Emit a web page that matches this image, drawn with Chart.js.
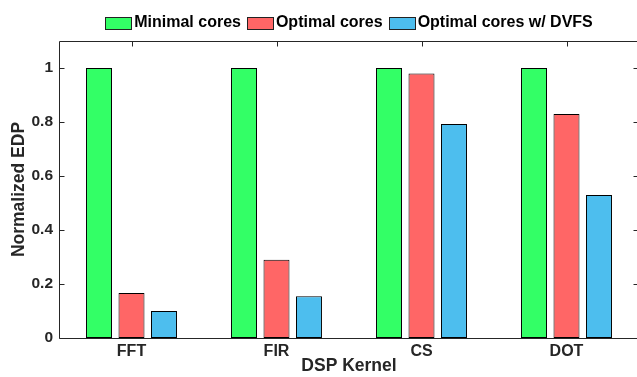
<!DOCTYPE html>
<html><head><meta charset="utf-8">
<script src="https://cdn.jsdelivr.net/npm/chart.js@4"></script>
<style>
html,body{margin:0;padding:0;background:#fff;overflow:hidden}
#wrap{width:637px;height:377px;overflow:hidden;position:relative;background:#fff}
canvas{display:block}
</style></head><body>
<div id="wrap"><canvas id="c" width="639" height="377"></canvas></div>
<script>
// Normalized energy-delay product per DSP kernel
const kernels = ['FFT', 'FIR', 'CS', 'DOT'];
const minimalCores = [1, 1, 1, 1];
const optimalCores = [0.167, 0.29, 0.98, 0.83];
const optimalCoresDvfs = [0.1, 0.155, 0.793, 0.53];
const seriesNames = ['Minimal cores', 'Optimal cores', 'Optimal cores w/ DVFS'];
const yTicks = [0, 0.2, 0.4, 0.6, 0.8, 1];

const FONT = '"Liberation Sans", Arial, Helvetica, sans-serif';
const AXIS = '#262626';
const colors = ['#33FF66', '#FF6666', '#4DBEEE'];

// Boxed axes with inward ticks on all four sides
const frame = {
  id: 'frame',
  beforeDatasetsDraw(chart) {
    const {ctx, chartArea: a, scales: {x, y}} = chart;
    const L = Math.round(a.left) + 0.5, R = Math.round(a.right) - 0.5;
    const T = Math.round(a.top) + 0.5, B = Math.round(a.bottom) + 0.5;
    ctx.save();
    ctx.strokeStyle = AXIS;
    ctx.lineWidth = 1;
    ctx.beginPath();
    ctx.rect(L, T, R - L, B - T);
    y.ticks.forEach(t => {
      const py = Math.round(y.getPixelForValue(t.value)) + 0.5;
      ctx.moveTo(L, py); ctx.lineTo(L + 5, py);
      ctx.moveTo(R, py); ctx.lineTo(R - 5, py);
    });
    x.ticks.forEach((t, i) => {
      const px = Math.round(x.getPixelForTick(i)) + 0.5;
      ctx.moveTo(px, T); ctx.lineTo(px, T + 5);
      ctx.moveTo(px, B); ctx.lineTo(px, B - 5);
    });
    ctx.stroke();
    ctx.restore();
  }
};

// Single-row legend centred over the plot area
const topLegend = {
  id: 'topLegend',
  afterDraw(chart) {
    const {ctx, chartArea: a} = chart;
    const boxW = 26, boxH = 12, gapText = 3, gapItem = 6, cy = 23;
    ctx.save();
    ctx.font = 'bold 16px ' + FONT;
    const items = chart.data.datasets.map(ds => ({
      label: ds.label, color: ds.backgroundColor, w: ctx.measureText(ds.label).width
    }));
    const total = items.reduce((s, it) => s + boxW + gapText + it.w, 0) + gapItem * (items.length - 1);
    let xPos = (a.left + a.right) / 2 - total / 2;
    ctx.textBaseline = 'middle';
    ctx.textAlign = 'left';
    items.forEach(it => {
      const bx = Math.round(xPos) + 0.5, by = Math.round(cy - boxH / 2) + 0.5;
      ctx.fillStyle = it.color;
      ctx.fillRect(bx, by, boxW, boxH);
      ctx.strokeStyle = '#222';
      ctx.lineWidth = 1;
      ctx.strokeRect(bx, by, boxW, boxH);
      ctx.fillStyle = '#000';
      ctx.fillText(it.label, xPos + boxW + gapText, cy);
      xPos += boxW + gapText + it.w + gapItem;
    });
    ctx.restore();
  }
};

const series = [minimalCores, optimalCores, optimalCoresDvfs];

new Chart(document.getElementById('c'), {
  type: 'bar',
  data: {
    labels: kernels,
    datasets: series.map((values, i) => ({
      label: seriesNames[i],
      data: values,
      backgroundColor: colors[i],
      borderColor: '#000',
      borderWidth: 1,
      borderSkipped: false,
      categoryPercentage: 0.672,
      barPercentage: 0.8
    }))
  },
  options: {
    responsive: false,
    animation: false,
    devicePixelRatio: 1,
    layout: {padding: {top: 41, left: 0, right: 0, bottom: 0}},
    plugins: {legend: {display: false}, tooltip: {enabled: false}},
    scales: {
      x: {
        offset: true,
        grid: {display: false, drawTicks: false},
        border: {display: false},
        ticks: {color: AXIS, font: {family: FONT, size: 16, weight: 'bold'}, padding: 4},
        title: {display: true, text: 'DSP Kernel', color: AXIS,
                font: {family: FONT, size: 17.5, weight: 'bold'}, padding: {top: 0, bottom: 0}},
        afterFit(s) { s.height = 39; }
      },
      y: {
        min: 0,
        max: 1.1,
        grid: {display: false, drawTicks: false},
        border: {display: false},
        afterBuildTicks(s) { s.ticks = yTicks.map(v => ({value: v})); },
        ticks: {color: AXIS, font: {family: FONT, size: 15.5, weight: 'bold'}, padding: 6,
                callback: v => String(Math.round(v * 10) / 10)},
        title: {display: true, text: 'Normalized EDP', color: AXIS,
                font: {family: FONT, size: 17.5, weight: 'bold'}, padding: {top: 9, bottom: 0}},
        afterFit(s) { s.width = 59; }
      }
    }
  },
  plugins: [frame, topLegend]
});
</script>
</body></html>
